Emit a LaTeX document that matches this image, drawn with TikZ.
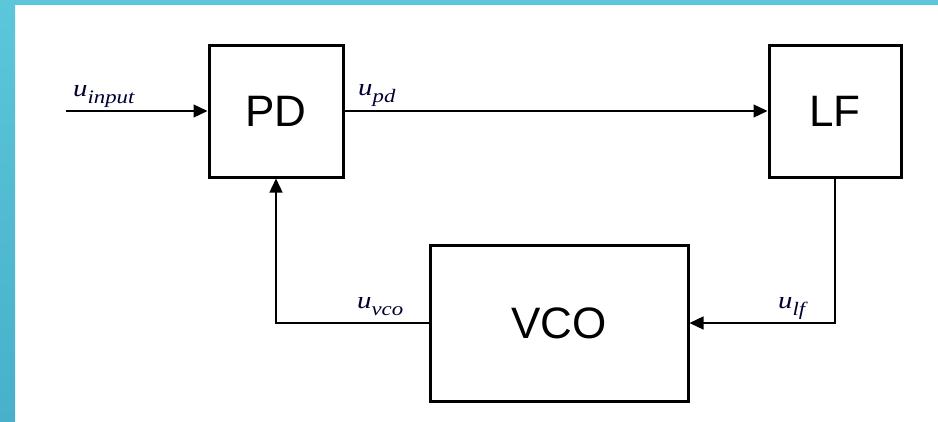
\documentclass[tikz,border=0pt]{standalone}
\usepackage{fontspec}
\usepackage{graphicx}
\setmainfont{Liberation Sans}
\newfontfamily\lblserif{Liberation Serif}
\usetikzlibrary{arrows.meta}
\definecolor{bandtop}{HTML}{5CC6DA}
\definecolor{bandbot}{HTML}{48B0CB}
\newcommand{\siglbl}[1]{\scalebox{1.2}[1]{\lblserif\itshape\fontsize{24}{24}\selectfont u\raisebox{-7pt}{\fontsize{19}{19}\selectfont #1}}}
\tikzset{
  blockbox/.style={draw=black, line width=3pt, fill=white, inner sep=0pt,
    font=\fontsize{44}{44}\selectfont},
  sigline/.style={line width=1.3pt, draw=black},
  sigarrow/.style={sigline, -{Triangle[length=14pt,width=13pt]}},
  siglabel/.style={anchor=base west, inner sep=0pt, text=black!80!blue}
}
\begin{document}
\begin{tikzpicture}[x=1pt,y=-1pt]
  \useasboundingbox (0,0) rectangle (938,421);
  \fill[white] (0,0) rectangle (938,421);
  % frame band
  \shade[top color=bandtop, bottom color=bandbot] (0,0) rectangle (15,421);
  \fill[bandtop] (0,0) rectangle (938,5);
  % blocks
  \node[blockbox, minimum width=134pt, minimum height=132pt] (pd) at (276,111) {PD};
  \node[blockbox, minimum width=132pt, minimum height=132pt] (lf) at (835,111) {LF};
  \node[blockbox, minimum width=258pt, minimum height=156pt] (vco) at (559,323) {VCO};
  \coordinate (in) at (66,111);
  % connectors
  \draw[sigarrow] (in) -- (pd.west);
  \draw[sigarrow] (pd.east) -- (lf.west);
  \draw[sigarrow] (lf.south) |- (vco.east);
  \draw[sigarrow] (vco.west) -| (pd.south);
  % labels
  \node[siglabel] (lin) at (73,96) {\siglbl{input}};
  \node[siglabel] (lpd) at (358,95) {\siglbl{pd}};
  \node[siglabel] (lvco) at (357,308) {\siglbl{vco}};
  \node[siglabel] (llf) at (778,308) {\siglbl{lf}};
\end{tikzpicture}
\end{document}
